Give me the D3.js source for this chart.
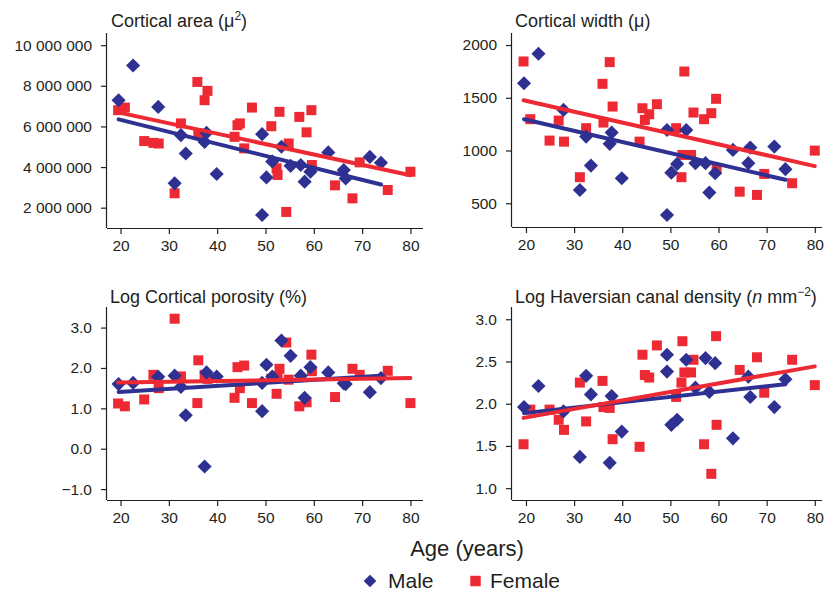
<!DOCTYPE html>
<html>
<head>
<meta charset="utf-8">
<script src="https://cdn.jsdelivr.net/npm/d3@7"></script>
<style>
  body { margin: 0; background: #fff; }
  svg text { font-family: "Liberation Sans", Arial, sans-serif; fill: #231f20; }
  .axis path, .axis line { stroke: #231f20; stroke-width: 1.2; }
  .axis text { font-size: 15.5px; }
  .title { font-size: 18px; }
</style>
</head>
<body>
<svg id="chart" width="825" height="593"></svg>
<script>
/*
** Four scatter panels: bone measures against age, male vs female,
** each with its own least squares line.
*/

// ages of the subjects
var maleAge = [19.6, 22.6, 27.8, 31.2, 32.5, 33.5, 37.4, 37.8, 39.9, 49.3, 49.3, 50.2,
	51.4, 53.3, 55.2, 57.3, 58.1, 59.3, 63.0, 66.2, 66.6, 71.6, 73.9];
var femaleAge = [19.5, 20.9, 24.9, 26.8, 27.9, 31.2, 32.5, 35.9, 36.1, 37.4, 38.0, 43.6,
	44.2, 44.7, 45.6, 47.2, 51.2, 52.3, 52.5, 52.9, 54.3, 54.8, 57.0, 58.5, 59.5, 59.6,
	64.4, 68.0, 69.5, 75.3, 80.0];

// cortical area (millions)
var areaMale = [7.29, 9.0, 6.96, 3.2, 5.57, 4.67, 5.24, 5.69, 3.66, 5.62, 1.64, 3.49,
	4.28, 5.0, 4.06, 4.1, 3.28, 3.77, 4.72, 3.85, 3.44, 4.5, 4.21];
var areaFemale = [6.80, 6.93, 5.28, 5.19, 5.16, 2.71, 6.15, 8.19, 5.66, 7.29, 7.75, 5.49,
	6.06, 6.15, 4.92, 6.93, 6.01, 3.94, 3.61, 6.72, 1.79, 5.16, 6.47, 5.71, 6.80, 4.10,
	3.10, 2.46, 4.23, 2.87, 3.77];

// cortical width
var widthMale = [1638, 1917, 1385, 626, 1132, 857, 1063, 1170, 737, 1195, 389, 790,
	873, 1195, 880, 880, 601, 785, 1006, 880, 1028, 1037, 823];
var widthFemale = [1844, 1297, 1094, 1284, 1084, 747, 1212, 1632, 1265, 1838, 1417, 1084,
	1401, 1290, 1344, 1439, 1212, 747, 958, 1749, 958, 1360, 1297, 1354, 1490, 832,
	610, 579, 778, 690, 999];

// log cortical porosity
var porosityMale = [1.60, 1.63, 1.78, 1.81, 1.53, 0.83, -0.44, 1.89, 1.79, 1.63, 0.93, 2.08,
	1.79, 2.68, 2.30, 1.81, 1.26, 2.02, 1.89, 1.62, 1.60, 1.40, 1.75];
var porosityFemale = [1.12, 1.05, 1.22, 1.83, 1.50, 3.22, 1.79, 1.13, 2.19, 1.83, 1.73, 1.26,
	2.02, 1.50, 2.06, 1.13, 1.73, 1.36, 1.80, 1.98, 2.63, 1.71, 1.05, 1.15, 2.33, 1.92,
	1.28, 1.98, 1.83, 1.93, 1.13];

// log haversian canal density
var densityMale = [1.96, 2.21, 1.91, 1.37, 2.33, 2.11, 1.30, 2.09, 1.67, 2.58, 2.38, 1.75,
	1.81, 2.52, 2.19, 2.54, 2.14, 2.48, 1.59, 2.32, 2.08, 1.96, 2.29];
var densityFemale = [1.52, 1.93, 1.93, 1.81, 1.69, 2.25, 1.79, 2.27, 1.96, 1.95, 1.58, 1.49,
	2.58, 2.34, 2.31, 2.69, 2.08, 2.25, 2.74, 2.37, 2.37, 2.52, 1.52, 1.17, 2.80, 1.75,
	2.40, 2.55, 2.13, 2.52, 2.22];

var ageTicks = [20, 30, 40, 50, 60, 70, 80];
var areaTicks = [2, 4, 6, 8, 10];
var widthTicks = [500, 1000, 1500, 2000];
var porosityTicks = [-1, 0, 1, 2, 3];
var densityTicks = [1.0, 1.5, 2.0, 2.5, 3.0];

var blue = "#2e3192";
var red = "#ed2a33";

var svg = d3.select("#chart");

var panels = [
	{ left: 107, top: 33, width: 316, height: 195, xDomain: [17.2, 82.6], yDomain: [1.0, 10.6],
	  ticks: areaTicks, fmt: function(d) { return d3.format(",")(d * 1e6).replace(/,/g, " "); },
	  male: areaMale, female: areaFemale },
	{ left: 512, top: 33, width: 310, height: 194, xDomain: [17.1, 81.5], yDomain: [275, 2114],
	  ticks: widthTicks, fmt: d3.format("d"),
	  male: widthMale, female: widthFemale },
	{ left: 107, top: 307, width: 316, height: 193, xDomain: [17.2, 82.6], yDomain: [-1.27, 3.51],
	  ticks: porosityTicks, fmt: function(d) { return d3.format(".1f")(d).replace("-", "\u2212"); },
	  male: porosityMale, female: porosityFemale },
	{ left: 512, top: 307, width: 310, height: 193, xDomain: [17.1, 81.5], yDomain: [0.86, 3.145],
	  ticks: densityTicks, fmt: d3.format(".1f"),
	  male: densityMale, female: densityFemale }
];

/*
** Least squares fit, returns the line endpoints at the first and last age.
*/
function fitLine(xs, ys) {
	var mx = d3.mean(xs), my = d3.mean(ys);
	var sxy = d3.sum(xs, function(x, i) { return (x - mx) * (ys[i] - my); });
	var sxx = d3.sum(xs, function(x) { return (x - mx) * (x - mx); });
	var b = sxy / sxx, a = my - b * mx;
	var ext = d3.extent(xs);
	return [[ext[0], a + b * ext[0]], [ext[1], a + b * ext[1]]];
}

function drawPanel(p) {
	var g = svg.append("g").attr("transform", "translate(" + p.left + "," + p.top + ")");
	var x = d3.scaleLinear().domain(p.xDomain).range([0, p.width]);
	var y = d3.scaleLinear().domain(p.yDomain).range([p.height, 0]);

	g.append("g").attr("class", "axis")
		.attr("transform", "translate(0," + p.height + ")")
		.call(d3.axisBottom(x).tickValues(ageTicks).tickSize(6).tickPadding(6).tickSizeOuter(0))
		.select(".domain").attr("d", "M0,0.5H" + p.width);
	g.append("g").attr("class", "axis")
		.call(d3.axisLeft(y).tickValues(p.ticks).tickFormat(p.fmt).tickSize(6).tickPadding(9).tickSizeOuter(0))
		.select(".domain").attr("d", "M-0.5,0V" + p.height);
	g.selectAll(".axis text").attr("fill", "#231f20").attr("font-family", null).attr("font-size", null);

	var line = d3.line().x(function(d) { return x(d[0]); }).y(function(d) { return y(d[1]); });

	// points
	var square = d3.symbol().type(d3.symbolSquare).size(100);

	g.selectAll("path.female")
		.data(femaleAge)
		.enter()
		.append("path")
			.attr("class", "female")
			.attr("d", square)
			.attr("fill", red)
			.attr("transform", function(d, i) {return "translate(" + x(d) + "," + y(p.female[i]) + ")";});

	// diamonds are squares turned by 45 degrees
	g.selectAll("path.male")
		.data(maleAge)
		.enter()
		.append("path")
			.attr("class", "male")
			.attr("d", square)
			.attr("fill", blue)
			.attr("transform", function(d, i) {return "translate(" + x(d) + "," + y(p.male[i]) + ") rotate(45)";});

	// regression lines
	g.append("path").attr("d", line(fitLine(maleAge, p.male)))
		.attr("stroke", blue).attr("stroke-width", 4).attr("stroke-linecap", "round").attr("fill", "none");
	g.append("path").attr("d", line(fitLine(femaleAge, p.female)))
		.attr("stroke", red).attr("stroke-width", 4).attr("stroke-linecap", "round").attr("fill", "none");
}

panels.forEach(drawPanel);

// panel titles
var t1 = svg.append("text").attr("class", "title").attr("x", 111).attr("y", 27);
t1.append("tspan").text("Cortical area (\u03bc");
t1.append("tspan").attr("font-size", "12px").attr("dy", -7).text("2");
t1.append("tspan").attr("dy", 7).text(")");

svg.append("text").attr("class", "title").attr("x", 515).attr("y", 27).text("Cortical width (\u03bc)");

svg.append("text").attr("class", "title").attr("x", 110).attr("y", 303).text("Log Cortical porosity (%)");

var t4 = svg.append("text").attr("class", "title").attr("x", 515).attr("y", 303);
t4.append("tspan").text("Log Haversian canal density (");
t4.append("tspan").attr("font-style", "italic").text("n");
t4.append("tspan").text(" mm");
t4.append("tspan").attr("font-size", "12px").attr("dy", -7).text("\u22122");
t4.append("tspan").attr("dy", 7).text(")");

// axis label
svg.append("text").attr("x", 467).attr("y", 556).attr("text-anchor", "middle")
	.attr("font-size", "22px").text("Age (years)");

// legend
var legend = svg.append("g").attr("transform", "translate(0,581)");
legend.append("path").attr("d", d3.symbol().type(d3.symbolSquare).size(80))
	.attr("fill", blue).attr("transform", "translate(370,0) rotate(45)");
legend.append("text").attr("x", 388).attr("y", 7).attr("font-size", "21px").text("Male");
legend.append("path").attr("d", d3.symbol().type(d3.symbolSquare).size(110))
	.attr("fill", red).attr("transform", "translate(475.5,0)");
legend.append("text").attr("x", 490).attr("y", 7).attr("font-size", "21px").text("Female");
</script>
</body>
</html>
